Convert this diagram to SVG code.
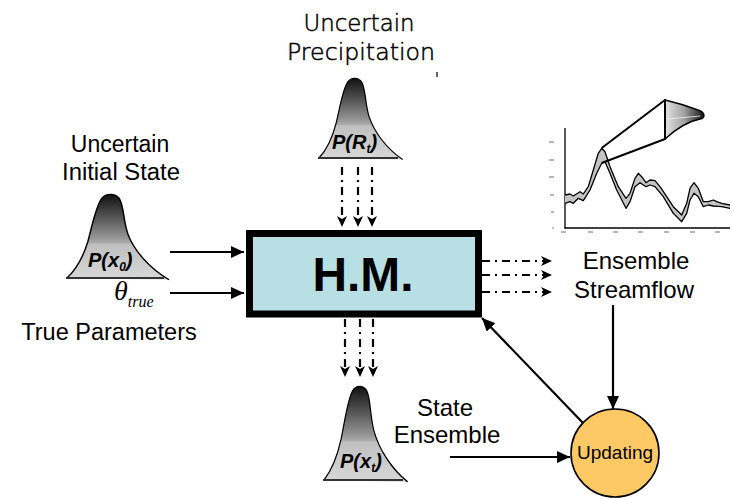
<svg xmlns="http://www.w3.org/2000/svg" width="732" height="499" viewBox="0 0 732 499">
  <style>
    .lbl { font-family: "Liberation Sans", Arial, sans-serif; fill: #000; }
    .gul { font-family: "DejaVu Sans", "Liberation Sans", sans-serif; font-weight: 200; fill: #000; stroke: #000; stroke-width: 0.5; }
    .pdf-lbl { font-family: "Liberation Sans", Arial, sans-serif; font-weight: bold; font-style: italic; font-size: 20px; fill: #000; }
    .bell { fill: url(#bellGrad); stroke: #000; stroke-width: 1.5; vector-effect: non-scaling-stroke; stroke-linejoin: round; }
    .base { stroke: #333; stroke-width: 2; fill: none; }
    .solid { stroke: #000; stroke-width: 2.2; fill: none; }
    .dash { stroke: #000; stroke-width: 2.2; fill: none; stroke-dasharray: 8 5 2 5; }
    .curve { fill: none; stroke: #000; stroke-width: 1.3; stroke-linejoin: round; }
    .tick { stroke: #888; stroke-width: 1.2; }
  </style>
  <defs>
    <linearGradient id="bellGrad" x1="0" y1="0" x2="0" y2="1">
      <stop offset="0" stop-color="#111"/>
      <stop offset="0.25" stop-color="#505050"/>
      <stop offset="0.5" stop-color="#939393"/>
      <stop offset="0.57" stop-color="#acacac"/>
      <stop offset="0.58" stop-color="#bfbfbf"/>
      <stop offset="1" stop-color="#d8d8d8"/>
    </linearGradient>
    <linearGradient id="sideGrad" x1="0" y1="0" x2="1" y2="0">
      <stop offset="0" stop-color="#e4e4e4"/>
      <stop offset="0.5" stop-color="#a0a0a0"/>
      <stop offset="1" stop-color="#111"/>
    </linearGradient>
    <!-- bell-shaped pdf, base-left at origin, 100 wide, 100 high -->
    <path id="bellShape" d="M0,0 C9,-10 16,-24 21,-44 C26,-66 29,-86 35,-95 C39,-101 48,-101 52,-95 C57,-87 56,-68 61,-52 C67,-33 82,-12 102,2"/>
    <marker id="solidHead" markerUnits="userSpaceOnUse" markerWidth="14" markerHeight="12" refX="13" refY="6" orient="auto">
      <path d="M0,0 L13,6 L0,12 z" fill="#000"/>
    </marker>
    <marker id="barbHead" markerUnits="userSpaceOnUse" markerWidth="12" markerHeight="10" refX="11" refY="5" orient="auto">
      <path d="M0,0 L11,5 L0,10 L3,5 z" fill="#000"/>
    </marker>
  </defs>

  <!-- labels -->
  <g id="labels">
    <text class="gul" x="359" y="31" font-size="23" text-anchor="middle" textLength="111" lengthAdjust="spacingAndGlyphs">Uncertain</text>
    <text class="gul" x="361" y="60" font-size="23" text-anchor="middle" textLength="148" lengthAdjust="spacingAndGlyphs">Precipitation</text>
    <line x1="437" y1="72" x2="437" y2="77" stroke="#000" stroke-width="1.2"/>
    <text class="lbl" x="120" y="152" font-size="23" text-anchor="middle">Uncertain</text>
    <text class="lbl" x="121" y="180" font-size="23" text-anchor="middle" textLength="118" lengthAdjust="spacingAndGlyphs">Initial State</text>
    <text class="lbl" x="109" y="340" font-size="23.5" text-anchor="middle">True Parameters</text>
    <text x="114" y="300" font-family="Liberation Serif, serif" font-style="italic" font-size="28">θ<tspan font-size="16" dy="7">true</tspan></text>
    <text class="lbl" x="636" y="269" font-size="24" text-anchor="middle">Ensemble</text>
    <text class="lbl" x="634" y="298" font-size="24" text-anchor="middle">Streamflow</text>
    <text class="lbl" x="445" y="416" font-size="24" text-anchor="middle">State</text>
    <text class="lbl" x="447" y="443" font-size="24" text-anchor="middle">Ensemble</text>
  </g>

  <!-- initial state pdf -->
  <g id="pdf-x0">
    <use href="#bellShape" class="bell" transform="translate(67,278) scale(1,0.84)"/>
    <line class="base" x1="66" y1="278" x2="164" y2="278"/>
    <text class="pdf-lbl" x="88" y="267">P(x<tspan font-size="12" dy="4">0</tspan><tspan dy="-4">)</tspan></text>
  </g>

  <!-- precipitation pdf -->
  <g id="pdf-rt">
    <use href="#bellShape" class="bell" transform="translate(319,158) scale(0.82,0.80)"/>
    <line class="base" x1="318" y1="158" x2="398" y2="158"/>
    <text class="pdf-lbl" x="332" y="149">P(R<tspan font-size="12" dy="4">t</tspan><tspan dy="-4">)</tspan></text>
  </g>

  <!-- state ensemble pdf -->
  <g id="pdf-xt">
    <use href="#bellShape" class="bell" transform="translate(324,480) scale(0.82,0.94)"/>
    <line class="base" x1="323" y1="480" x2="403" y2="480"/>
    <text class="pdf-lbl" x="340" y="468">P(x<tspan font-size="12" dy="4">t</tspan><tspan dy="-4">)</tspan></text>
  </g>

  <!-- hydrologic model -->
  <g id="hm">
    <rect x="249.5" y="233.5" width="229" height="80.5" fill="#b8dfe3" stroke="#000" stroke-width="7"/>
    <text x="363" y="291" font-family="Liberation Sans, Arial, sans-serif" font-weight="bold" font-size="48" text-anchor="middle" textLength="101" lengthAdjust="spacingAndGlyphs">H.M.</text>
  </g>

  <!-- streamflow chart -->
  <g id="chart">
    <line x1="565" y1="128" x2="565" y2="228.5" stroke="#000" stroke-width="1.3"/>
    <line x1="564.5" y1="228" x2="730" y2="228" stroke="#000" stroke-width="1.3"/>
    <g class="tick">
      <line x1="549" y1="142" x2="554" y2="142"/><line x1="549" y1="160" x2="554" y2="160"/>
      <line x1="549" y1="177" x2="554" y2="177"/><line x1="550" y1="195" x2="554" y2="195"/>
      <line x1="551" y1="212" x2="554" y2="212"/><line x1="552" y1="228" x2="554" y2="228"/>
      <line x1="561" y1="232" x2="566" y2="232"/><line x1="588" y1="232" x2="593" y2="232"/>
      <line x1="613" y1="232" x2="618" y2="232"/><line x1="638" y1="232" x2="643" y2="232"/>
      <line x1="664" y1="232" x2="669" y2="232"/><line x1="690" y1="232" x2="695" y2="232"/>
      <line x1="715" y1="232" x2="720" y2="232"/>
    </g>
    <path fill="#c4c4c4" stroke="none" d="M565,195 L570,194 L573.3,196 L580,191.7 L583.3,194 L588.3,186.7 L593.3,170 L598.3,153.3 L601.7,148.3 L605,151.7 L610,166.7 L618.3,186.7 L626,198.3 L630,193.3 L635,178.3 L638.3,173.3 L641.7,176.7 L646,182.7 L650,180 L655,180.7 L660,186.7 L666.7,196.7 L673.3,206.7 L681.7,215 L686.7,203.3 L690,188.3 L694,182.7 L698.3,188.3 L703.3,201.7 L708.3,201.7 L713.3,200 L716.7,201.7 L721.7,203.3 L730,205 L730,208.3 L721.7,206.7 L713.3,206 L708.3,205 L703.3,206.7 L698.3,196.7 L694,193.3 L690,200 L686.7,213.3 L681.7,221.7 L673.3,213.3 L663.3,196.7 L655,186.7 L650,185 L646,186.7 L640,182.7 L635,186.7 L630,201.7 L626,208.3 L616.7,190 L610,173.3 L605,161.7 L601.7,163.3 L596.7,173.3 L590,190 L583.3,200.7 L578.3,198.3 L573.3,203.3 L570,201.7 L565,203.3 z"/>
    <path class="curve" d="M565,195 L570,194 L573.3,196 L580,191.7 L583.3,194 L588.3,186.7 L593.3,170 L598.3,153.3 L601.7,148.3 L605,151.7 L610,166.7 L618.3,186.7 L626,198.3 L630,193.3 L635,178.3 L638.3,173.3 L641.7,176.7 L646,182.7 L650,180 L655,180.7 L660,186.7 L666.7,196.7 L673.3,206.7 L681.7,215 L686.7,203.3 L690,188.3 L694,182.7 L698.3,188.3 L703.3,201.7 L708.3,201.7 L713.3,200 L716.7,201.7 L721.7,203.3 L730,205"/>
    <path class="curve" d="M565,203.3 L570,201.7 L573.3,203.3 L578.3,198.3 L583.3,200.7 L590,190 L596.7,173.3 L601.7,163.3 L605,161.7 L610,173.3 L616.7,190 L626,208.3 L630,201.7 L635,186.7 L640,182.7 L646,186.7 L650,185 L655,186.7 L663.3,196.7 L673.3,213.3 L681.7,221.7 L686.7,213.3 L690,200 L694,193.3 L698.3,196.7 L703.3,206.7 L708.3,205 L713.3,206 L721.7,206.7 L730,208.3"/>
    <!-- zoomed pdf at the peak -->
    <path d="M665,100 C678,103 690,107 698,110 C705,112 706,118 700,119 C690,121 678,127 665,139 z" fill="url(#sideGrad)" stroke="#000" stroke-width="1.5" stroke-linejoin="round"/>
    <line x1="667" y1="119" x2="700" y2="116" stroke="#eee" stroke-width="0.8"/>
    <path d="M601.7,148 L665,100 L665,139 L601.7,163" fill="none" stroke="#000" stroke-width="2" stroke-linejoin="round"/>
  </g>

  <!-- updating step -->
  <g id="updating">
    <circle cx="615" cy="453" r="44" fill="#fcc965" stroke="#000" stroke-width="1.6"/>
    <text class="lbl" x="615" y="459" font-size="19" text-anchor="middle">Updating</text>
  </g>

  <!-- connectors -->
  <g id="connectors">
    <line class="solid" x1="170" y1="252" x2="244" y2="252" marker-end="url(#solidHead)"/>
    <line class="solid" x1="170" y1="293" x2="244" y2="293" marker-end="url(#solidHead)"/>
    <line class="dash" x1="342" y1="167" x2="342" y2="227" marker-end="url(#barbHead)"/>
    <line class="dash" x1="358" y1="167" x2="358" y2="227" marker-end="url(#barbHead)"/>
    <line class="dash" x1="372" y1="167" x2="372" y2="227" marker-end="url(#barbHead)"/>
    <line class="dash" x1="345" y1="319" x2="345" y2="377" marker-end="url(#barbHead)"/>
    <line class="dash" x1="360" y1="319" x2="360" y2="377" marker-end="url(#barbHead)"/>
    <line class="dash" x1="373" y1="319" x2="373" y2="377" marker-end="url(#barbHead)"/>
    <line class="dash" x1="482" y1="261" x2="552" y2="261" marker-end="url(#barbHead)"/>
    <line class="dash" x1="482" y1="275" x2="552" y2="275" marker-end="url(#barbHead)"/>
    <line class="dash" x1="482" y1="292" x2="552" y2="292" marker-end="url(#barbHead)"/>
    <line class="solid" x1="613" y1="305" x2="613" y2="409" marker-end="url(#solidHead)"/>
    <line class="solid" x1="450" y1="457" x2="570" y2="457" marker-end="url(#solidHead)"/>
    <line class="solid" x1="583" y1="423" x2="482" y2="318" marker-end="url(#solidHead)"/>
  </g>
</svg>
